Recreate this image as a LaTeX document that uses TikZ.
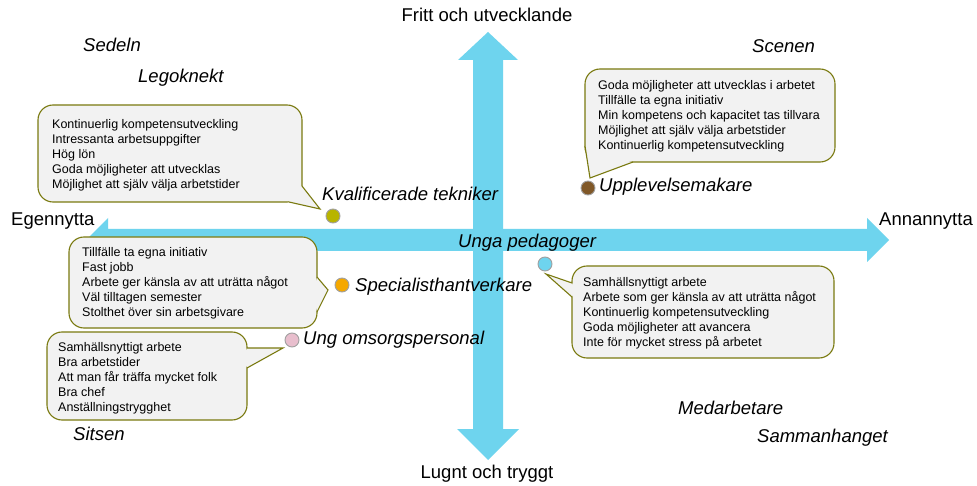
\documentclass[tikz,border=0pt]{standalone}
\usepackage{fontspec}
\setmainfont{Liberation Sans}
\usetikzlibrary{calc}
\definecolor{axisblue}{RGB}{110,212,238}
\definecolor{calloutfill}{RGB}{242,242,242}
\definecolor{calloutline}{RGB}{122,122,16}
\definecolor{dotrim}{RGB}{160,160,160}
\definecolor{dotolive}{RGB}{184,180,0}
\definecolor{dotbrown}{RGB}{128,88,40}
\definecolor{dotorange}{RGB}{245,168,0}
\definecolor{dotpink}{RGB}{232,190,205}
\begin{document}
\begin{tikzpicture}[x=1pt,y=-1pt,
  axislabel/.style={font=\fontsize{18.5}{22}\selectfont, inner sep=0pt, text height=13.5pt, text depth=4pt},
  quadlabel/.style={font=\fontsize{18.5}{22}\selectfont\itshape, anchor=west, inner sep=0pt, text height=13.5pt, text depth=4pt},
  dot/.style={circle, draw=dotrim, line width=0.9pt, minimum size=14pt, inner sep=0pt},
  calloutbox/.style={draw=calloutline, fill=calloutfill, line width=1.1pt, rounded corners=15pt,
    outer sep=0pt, inner sep=0pt},
  callouttext/.style={anchor=west, inner sep=0pt, align=left, font=\fontsize{12.5}{15}\selectfont},
  pointerfill/.style={fill=calloutfill},
  pointerline/.style={draw=calloutline, line width=1.1pt, line join=miter},
]
% canvas
\fill[white] (0,0) rectangle (977,486);
\useasboundingbox (0,0) rectangle (977,486);

% vertical axis (double-headed)
\fill[axisblue] (488,32) -- (518,60) -- (503,60) -- (503,429) -- (519,429) -- (488,460)
  -- (457,429) -- (473,429) -- (473,60) -- (458,60) -- cycle;
% horizontal axis (double-headed)
\fill[axisblue] (86,240) -- (108,218) -- (108,229) -- (867,229) -- (867,218) -- (889,240)
  -- (867,262) -- (867,251) -- (108,251) -- (108,262) -- cycle;

% axis labels
\node[axislabel] (top) at (487,17) {Fritt och utvecklande};
\node[axislabel] (bottom) at (487,474) {Lugnt och tryggt};
\node[axislabel, anchor=west] (left) at (11,221) {Egennytta};
\node[axislabel, anchor=west] (right) at (879,221) {Annannytta};

% quadrant labels
\node[quadlabel] (qSedeln) at (83,47) {Sedeln};
\node[quadlabel] (qLego) at (138,78) {Legoknekt};
\node[quadlabel] (qScenen) at (752,48) {Scenen};
\node[quadlabel] (qSitsen) at (73,436) {Sitsen};
\node[quadlabel] (qMedarb) at (678,410) {Medarbetare};
\node[quadlabel] (qSamman) at (757,438) {Sammanhanget};

% group markers
\node[dot, fill=dotolive] (dK) at (333,216) {};
\node[dot, fill=dotbrown] (dU) at (588,188) {};
\node[dot, fill=axisblue] (dP) at (545,264) {};
\node[dot, fill=dotorange] (dS) at (342,285) {};
\node[dot, fill=dotpink] (dO) at (292,340) {};

% group names
\node[quadlabel] (lK) at (322,196) {Kvalificerade tekniker};
\node[quadlabel] (lU) at (599,187) {Upplevelsemakare};
\node[quadlabel] (lP) at (458,243) {Unga pedagoger};
\node[quadlabel] (lS) at (355,287) {Specialisthantverkare};
\node[quadlabel] (lO) at (303,340) {Ung omsorgspersonal};

% callout: Kvalificerade tekniker
\node[calloutbox, minimum width=264pt, minimum height=97pt] (cK) at (170,153.5) {};
\fill[pointerfill] ($(cK.south east)+(0,-16)$) -- ($(dK)+(-13,-7)$) -- ($(cK.south east)+(-13,0)$) -- ($(cK.south east)+(-10,-12)$) -- cycle;
\draw[pointerline] ($(cK.south east)+(0,-16)$) -- ($(dK)+(-13,-7)$) -- ($(cK.south east)+(-13,0)$);
\node[callouttext] (tK) at ($(cK.west)+(14,2)$) {Kontinuerlig kompetensutveckling\\Intressanta arbetsuppgifter\\Hög lön\\Goda möjligheter att utvecklas\\Möjlighet att själv välja arbetstider};

% callout: Upplevelsemakare
\node[calloutbox, minimum width=250pt, minimum height=93pt] (cU) at (710,115.5) {};
\fill[pointerfill] ($(cU.south west)+(48,0)$) -- ($(dU)+(2,-10)$) -- ($(cU.south west)+(0,-16)$) -- ($(cU.south west)+(10,-8)$) -- cycle;
\draw[pointerline] ($(cU.south west)+(48,0)$) -- ($(dU)+(2,-10)$) -- ($(cU.south west)+(0,-16)$);
\node[callouttext] (tU) at ($(cU.west)+(13,1)$) {Goda möjligheter att utvecklas i arbetet\\Tillfälle ta egna initiativ\\Min kompetens och kapacitet tas tillvara\\Möjlighet att själv välja arbetstider\\Kontinuerlig kompetensutveckling};

% callout: Specialisthantverkare
\node[calloutbox, minimum width=248pt, minimum height=91pt] (cS) at (193,282.5) {};
\fill[pointerfill] ($(cS.east)+(0,-5.5)$) -- ($(dS)+(-14,5)$) -- ($(cS.east)+(0,29.5)$) -- ($(cS.east)+(-4,12)$) -- cycle;
\draw[pointerline] ($(cS.east)+(0,-5.5)$) -- ($(dS)+(-14,5)$) -- ($(cS.east)+(0,29.5)$);
\node[callouttext] (tS) at ($(cS.west)+(13,1)$) {Tillfälle ta egna initiativ\\Fast jobb\\Arbete ger känsla av att uträtta något\\Väl tilltagen semester\\Stolthet över sin arbetsgivare};

% callout: Ung omsorgspersonal
\node[calloutbox, minimum width=200pt, minimum height=88pt] (cO) at (147,376) {};
\fill[pointerfill] ($(cO.east)+(0,-28)$) -- ($(dO)+(-9,8)$) -- ($(cO.east)+(0,-8)$) -- ($(cO.east)+(-4,-18)$) -- cycle;
\draw[pointerline] ($(cO.east)+(0,-28)$) -- ($(dO)+(-9,8)$) -- ($(cO.east)+(0,-8)$);
\node[callouttext] (tO) at ($(cO.west)+(11,2.5)$) {Samhällsnyttigt arbete\\Bra arbetstider\\Att man får träffa mycket folk\\Bra chef\\Anställningstrygghet};

% callout: Unga pedagoger
\node[calloutbox, minimum width=262pt, minimum height=92pt] (cP) at (703,312) {};
\fill[pointerfill] ($(cP.west)+(0,-29)$) -- ($(dP)+(1,10)$) -- ($(cP.west)+(0,-15)$) -- ($(cP.west)+(4,-22)$) -- cycle;
\draw[pointerline] ($(cP.west)+(0,-29)$) -- ($(dP)+(1,10)$) -- ($(cP.west)+(0,-15)$);
\node[callouttext] (tP) at ($(cP.west)+(11,1)$) {Samhällsnyttigt arbete\\Arbete som ger känsla av att uträtta något\\Kontinuerlig kompetensutveckling\\Goda möjligheter att avancera\\Inte för mycket stress på arbetet};
\end{tikzpicture}
\end{document}
